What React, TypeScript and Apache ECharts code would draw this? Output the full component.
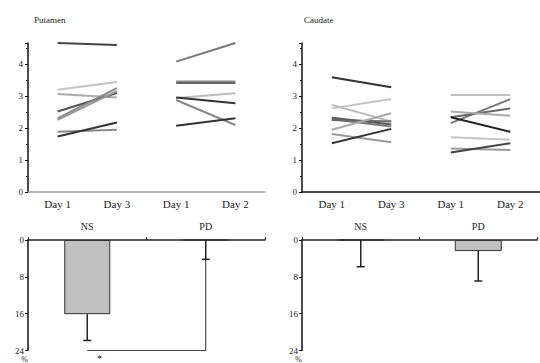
import React, { useEffect, useRef } from "react";
import * as echarts from "echarts";

const topCategories = ["Day 1", "Day 3", "Day 1", "Day 2"];
const panelTitles = ["Putamen", "Caudate"];

// pairs: [first visit, second visit]
const putamenNS = [[4.65, 4.59], [3.19, 3.43], [3.06, 2.95], [2.51, 3.09], [2.30, 3.24], [2.25, 3.15], [1.88, 1.94], [1.73, 2.17]];
const putamenNSColors = ["#444", "#c4c4c4", "#aaa", "#555", "#888", "#999", "#888", "#333"];
const putamenPD = [[4.07, 4.65], [3.45, 3.45], [3.40, 3.40], [2.93, 3.08], [2.95, 2.77], [2.87, 2.09], [2.07, 2.30]];
const putamenPDColors = ["#777", "#888", "#666", "#bbb", "#333", "#888", "#333"];

const caudateNS = [[3.58, 3.27], [2.61, 2.90], [2.72, 2.20], [2.32, 2.11], [2.27, 2.04], [2.25, 2.20], [1.94, 2.46], [1.81, 1.55], [1.52, 1.97]];
const caudateNSColors = ["#333", "#c4c4c4", "#bbb", "#555", "#777", "#666", "#aaa", "#999", "#333"];
const caudatePD = [[3.03, 3.03], [2.15, 2.90], [2.33, 2.61], [2.51, 2.38], [2.33, 1.88], [1.71, 1.63], [1.36, 1.31], [1.23, 1.52]];
const caudatePDColors = ["#c0c0c0", "#777", "#666", "#aaa", "#222", "#c4c4c4", "#999", "#444"];

const barCategories = ["NS", "PD"];
const putamenChange = [16.1, 0];
const putamenError = [5.7, 4.2];
const caudateChange = [0, 2.4];
const caudateError = [5.8, 6.5];
const bracketLevel = 24;
const changeTicks = [0, 8, 16, 24];

const FONT = "Liberation Serif";
const TXT = "#222";

export default function App() {
  const ref = useRef<HTMLDivElement>(null);
  useEffect(() => {
    const chart = echarts.init(ref.current!, null, { renderer: "svg" });

    const pairSeries = (pairs: number[][], colors: string[], group: number, idx: number) =>
      pairs.map((p, i) => ({
        type: "line",
        xAxisIndex: idx,
        yAxisIndex: idx,
        symbol: "none",
        silent: true,
        lineStyle: { color: colors[i], width: 2 },
        data: group === 0 ? [p[0], p[1], "-", "-"] : ["-", "-", p[0], p[1]],
      }));

    const errSeries = (vals: number[], errs: number[], idx: number) => ({
      type: "custom",
      xAxisIndex: idx,
      yAxisIndex: idx,
      silent: true,
      z: 5,
      data: vals.map((v, i) => [i, v, errs[i]]),
      renderItem: (params: any, api: any) => {
        const x = api.value(0);
        const v = api.value(1);
        const e = api.value(2);
        const p0 = api.coord([x, v]);
        const p1 = api.coord([x, v + e]);
        const cw = 4;
        return {
          type: "group",
          children: [
            { type: "line", shape: { x1: p0[0], y1: p0[1], x2: p1[0], y2: p1[1] }, style: { stroke: "#222", lineWidth: 1.5 } },
            { type: "line", shape: { x1: p1[0] - cw, y1: p1[1], x2: p1[0] + cw, y2: p1[1] }, style: { stroke: "#222", lineWidth: 1.5 } },
          ],
        };
      },
    });

    const topX = (idx: number, lineColor: string) => ({
      type: "category",
      gridIndex: idx,
      data: topCategories,
      boundaryGap: true,
      axisLine: { lineStyle: { color: lineColor, width: 1.5 } },
      axisTick: { show: false },
      axisLabel: { color: TXT, fontFamily: FONT, fontSize: 11, margin: 6 },
    });
    const topY = (idx: number) => ({
      type: "value",
      gridIndex: idx,
      min: 0,
      max: 4.65,
      interval: 1,
      splitLine: { show: false },
      axisLine: { show: true, lineStyle: { color: "#111", width: 1.5 } },
      axisTick: { show: true, length: 3, lineStyle: { color: "#111" } },
      minorTick: { show: true, splitNumber: 2, length: 2, lineStyle: { color: "#111" } },
      axisLabel: { color: TXT, fontFamily: FONT, fontSize: 9, margin: 5, showMaxLabel: false },
    });
    const botX = (idx: number) => ({
      type: "category",
      gridIndex: idx,
      data: barCategories,
      position: "top",
      boundaryGap: true,
      axisLine: { onZero: false, lineStyle: { color: "#222", width: 1.5 } },
      axisTick: { show: true, length: 3, lineStyle: { color: "#222" } },
      axisLabel: { color: TXT, fontFamily: FONT, fontSize: 10, margin: 9 },
    });
    const botY = (idx: number) => ({
      type: "value",
      gridIndex: idx,
      inverse: true,
      min: changeTicks[0],
      max: changeTicks[changeTicks.length - 1],
      interval: changeTicks[1] - changeTicks[0],
      name: "%",
      nameLocation: "end",
      nameGap: 4,
      nameTextStyle: { color: TXT, fontFamily: FONT, fontSize: 8, align: "right", padding: [0, 0, 0, 0] },
      splitLine: { show: false },
      axisLine: { show: true, lineStyle: { color: "#111", width: 1.5 } },
      axisTick: { show: true, length: 3, lineStyle: { color: "#111" } },
      axisLabel: { color: TXT, fontFamily: FONT, fontSize: 9, margin: 4 },
    });

    const option: any = {
      animation: false,
      backgroundColor: "#fff",
      textStyle: { fontFamily: FONT },
      title: [
        { text: panelTitles[0], left: 29, top: 10, textStyle: { fontFamily: FONT, fontSize: 9, fontWeight: "normal", color: TXT } },
        { text: panelTitles[1], left: 299, top: 10, textStyle: { fontFamily: FONT, fontSize: 9, fontWeight: "normal", color: TXT } },
      ],
      grid: [
        { left: 28, top: 43, width: 237, height: 149 },
        { left: 302, top: 43, width: 238, height: 149 },
        { left: 28, top: 240, width: 237, height: 111 },
        { left: 302, top: 240, width: 235, height: 111 },
      ],
      xAxis: [topX(0, "#999"), topX(1, "#111"), botX(2), botX(3)],
      yAxis: [topY(0), topY(1), botY(2), botY(3)],
      series: [
        ...pairSeries(putamenNS, putamenNSColors, 0, 0),
        ...pairSeries(putamenPD, putamenPDColors, 1, 0),
        ...pairSeries(caudateNS, caudateNSColors, 0, 1),
        ...pairSeries(caudatePD, caudatePDColors, 1, 1),
        {
          type: "bar",
          xAxisIndex: 2,
          yAxisIndex: 2,
          barWidth: 46,
          silent: true,
          itemStyle: { color: "#c0c0c0", borderColor: "#333", borderWidth: 1 },
          data: putamenChange,
        },
        errSeries(putamenChange, putamenError, 2),
        {
          type: "line",
          xAxisIndex: 2,
          yAxisIndex: 2,
          symbol: "none",
          silent: true,
          lineStyle: { color: "#333", width: 1 },
          data: [
            [barCategories[0], bracketLevel],
            [barCategories[1], bracketLevel],
            [barCategories[1], putamenChange[1] + putamenError[1]],
          ],
        },
        {
          type: "bar",
          xAxisIndex: 3,
          yAxisIndex: 3,
          barWidth: 47,
          silent: true,
          itemStyle: { color: "#c0c0c0", borderColor: "#333", borderWidth: 1 },
          data: caudateChange,
        },
        errSeries(caudateChange, caudateError, 3),
      ],
      graphic: [
        { type: "text", left: 97, top: 353, style: { text: "*", fill: TXT, font: `10px "${FONT}"` } },
      ],
    };
    chart.setOption(option);
    return () => chart.dispose();
  }, []);
  return <div ref={ref} style={{ width: 540, height: 363, position: "absolute", left: 0, top: 0 }} />;
}
